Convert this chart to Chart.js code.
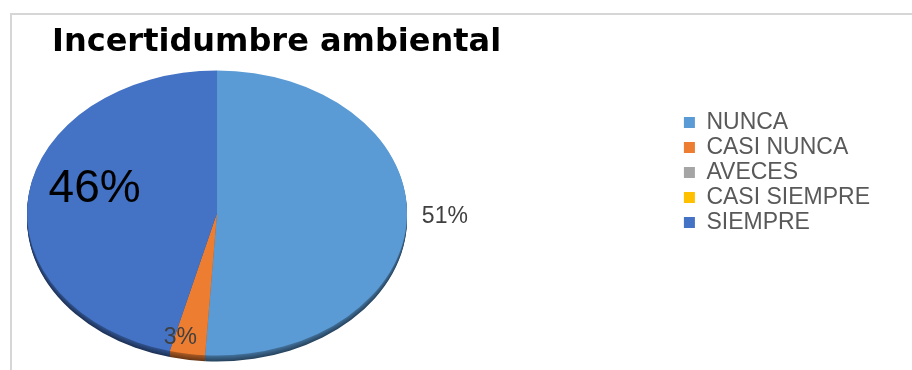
<!DOCTYPE html>
<html lang="es">
<head>
<meta charset="UTF-8">
<title>Incertidumbre ambiental</title>
<script src="https://cdn.jsdelivr.net/npm/chart.js@4.4.1/dist/chart.umd.min.js"></script>
<style>
  body { margin: 0; background: #fff; }
  #wrap { position: relative; width: 912px; height: 370px; overflow: hidden; }
  #frame { position: absolute; left: 10px; top: 13px; width: 960px; height: 420px;
           border-top: 2px solid #d6d6d6; border-left: 2px solid #d6d6d6; }
  canvas { position: absolute; left: 0; top: 0; }
</style>
</head>
<body>
<div id="wrap">
  <div id="frame"></div>
  <canvas id="myChart" width="912" height="370"></canvas>
</div>
<script>
// data
const categories = ['NUNCA', 'CASI NUNCA', 'AVECES', 'CASI SIEMPRE', 'SIEMPRE'];
const percentages = [51, 3, 0, 0, 46];
const sliceColors = ['#5B9BD5', '#ED7D31', '#A5A5A5', '#FFC000', '#4472C4'];

// layout of the tilted pie (screen px)
const PIE_CX = 217, PIE_CY = 213, PIE_R = 190, TILT = 0.75, DEPTH = 6;

// per-slice label placement / style (radius as fraction of R, extra nudge in px)
const labelStyle = [
  { r: 1.2,  dx: 0,   dy: -2,  size: 23, color: '#404040' },
  { r: 0.9,  dx: -10, dy: -2,  size: 23, color: '#404040' },
  { r: 0.7,  dx: 0,   dy: 0,   size: 23, color: '#404040' },
  { r: 0.7,  dx: 0,   dy: 0,   size: 23, color: '#404040' },
  { r: 0.66, dx: 2,   dy: -12, size: 46, color: '#000000' }
];

function darken(hex, f) {
  const n = parseInt(hex.slice(1), 16);
  const r = Math.round(((n >> 16) & 255) * f);
  const g = Math.round(((n >> 8) & 255) * f);
  const b = Math.round((n & 255) * f);
  return 'rgb(' + r + ',' + g + ',' + b + ')';
}

// squash the pie into an ellipse and give it a dark rim underneath
const tiltPlugin = {
  id: 'tilt',
  beforeDatasetsDraw(chart) {
    const ctx = chart.ctx;
    const arcs = chart.getDatasetMeta(0).data;
    const ox = arcs[0].x, oy = arcs[0].y;
    ctx.save();
    ctx.translate(PIE_CX, PIE_CY);
    ctx.scale(1, TILT);
    ctx.translate(-ox, -oy);
    for (let d = DEPTH; d >= 1; d--) {
      arcs.forEach((arc, i) => {
        if (arc.endAngle - arc.startAngle <= 0) return;
        const off = d / TILT;
        ctx.beginPath();
        ctx.moveTo(arc.x, arc.y + off);
        ctx.arc(arc.x, arc.y + off, arc.outerRadius, arc.startAngle, arc.endAngle);
        ctx.closePath();
        ctx.fillStyle = darken(sliceColors[i], 0.45 + 0.05 * (DEPTH - d));
        ctx.fill();
      });
    }
  },
  afterDatasetsDraw(chart) {
    const ctx = chart.ctx;
    ctx.restore();
    const arcs = chart.getDatasetMeta(0).data;
    ctx.save();
    ctx.textAlign = 'center';
    ctx.textBaseline = 'middle';
    arcs.forEach((arc, i) => {
      const v = percentages[i];
      if (!v) return;
      const st = labelStyle[i];
      const mid = (arc.startAngle + arc.endAngle) / 2;
      const rr = arc.outerRadius * st.r;
      const x = PIE_CX + rr * Math.cos(mid) + st.dx;
      const y = PIE_CY + rr * Math.sin(mid) * TILT + st.dy;
      ctx.font = st.size + 'px "Liberation Sans", Arial, sans-serif';
      ctx.fillStyle = st.color;
      ctx.fillText(v + '%', x, y);
    });
    ctx.restore();
  }
};

var ctx = document.getElementById('myChart').getContext('2d');
var chart = new Chart(ctx, {
  type: 'pie',
  data: {
    labels: categories,
    datasets: [{
      data: percentages,
      backgroundColor: sliceColors,
      borderWidth: 0,
      radius: PIE_R
    }]
  },
  options: {
    responsive: false,
    animation: false,
    layout: { padding: { left: 52, right: 32, top: 0, bottom: 25 } },
    plugins: {
      tooltip: { enabled: false },
      title: {
        display: true,
        text: 'Incertidumbre ambiental',
        align: 'start',
        color: '#000',
        font: { family: '"DejaVu Sans", Verdana, sans-serif', size: 32, weight: 'bold' },
        padding: { top: 23, bottom: 0 }
      },
      legend: {
        position: 'right',
        labels: {
          boxWidth: 11,
          boxHeight: 11,
          padding: 2,
          color: '#595959',
          font: { family: '"Liberation Sans", Arial, sans-serif', size: 23 }
        }
      }
    }
  },
  plugins: [tiltPlugin]
});
</script>
</body>
</html>
